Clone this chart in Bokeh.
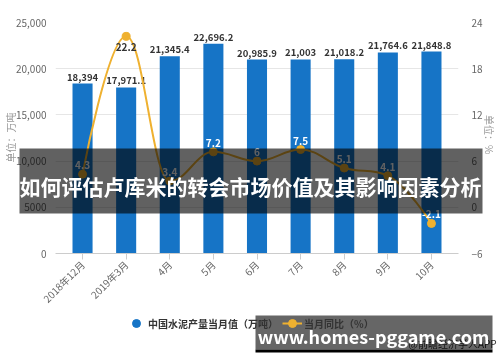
import math
from bokeh.plotting import figure
from bokeh.models import (ColumnDataSource, Range1d, LinearAxis, FixedTicker,
                          Legend, LegendItem, BoxAnnotation, Label)
from bokeh.core.properties import value
from bokeh.embed import file_html
from bokeh.resources import INLINE

# ---------------- data ----------------
categories = ["2018年12月", "2019年3月", "4月", "5月", "6月", "7月", "8月", "9月", "10月"]
output_values = [18394, 17971.1, 21345.4, 22696.2, 20985.9, 21003, 21018.2, 21764.6, 21848.8]
yoy_values = [4.3, 22.2, 3.4, 7.2, 6, 7.5, 5.1, 4.1, -2.1]
left_ticks = [0, 5000, 10000, 15000, 20000, 25000]
left_tick_labels = ["0", "5000", "10,000", "15,000", "20,000", "25,000"]
right_ticks = [-6, 0, 6, 12, 18, 24]
bar_name = "中国水泥产量当月值（万吨）"
line_name = "当月同比（%）"
left_title = "单位：万吨"
right_title = "单位：%"
headline = "如何评估卢库米的转会市场价值及其影响因素分析"
banner_text = "www.homes-pggame.com"
credit_text = "@前瞻经济学人APP"

# ---------------- style ----------------
FONT = "Noto Sans CJK SC"
BLUE = "#1674c6"
GOLD = "#efb130"
LEFT_MAX = 25000
RIGHT_MIN, RIGHT_MAX = -6, 24
FRAME_H = 231.0
W, H = 500, 362
NAN = float("nan")


def fmt(v):
    if float(v) == int(v):
        return f"{int(v):,}"
    return f"{v:,.1f}"


xs = list(range(len(categories)))

p = figure(width=W, height=H, output_backend="svg", toolbar_location=None,
           x_range=Range1d(-0.62, len(categories) - 1 + 0.62),
           y_range=Range1d(0, LEFT_MAX),
           min_border_left=55, min_border_right=42, min_border_top=22,
           min_border_bottom=109, outline_line_color=None,
           background_fill_color="white", border_fill_color="white")
p.styles = {"position": "fixed", "top": "0px", "left": "0px"}
p.extra_y_ranges = {"pct": Range1d(RIGHT_MIN, RIGHT_MAX)}

# axes
xb = p.below[0]
yl = p.left[0]
xb.ticker = FixedTicker(ticks=xs)
xb.major_label_overrides = {i: c for i, c in zip(xs, categories)}
xb.major_label_orientation = math.pi / 4
xb.major_label_text_font = FONT
xb.major_label_text_font_size = "10px"
xb.major_label_text_color = "#666666"
xb.axis_line_color = "#cccccc"
xb.major_tick_line_color = "#cccccc"
xb.major_tick_out = 6
xb.major_tick_in = 0
xb.minor_tick_line_color = None
xb.major_label_standoff = 3

yl.ticker = FixedTicker(ticks=left_ticks)
yl.major_label_overrides = {t: l for t, l in zip(left_ticks, left_tick_labels)}
yl.major_label_text_font = FONT
yl.major_label_text_font_size = "10px"
yl.major_label_text_color = "#666666"
yl.axis_line_color = None
yl.major_tick_line_color = None
yl.minor_tick_line_color = None
yl.major_label_standoff = 3

yr = LinearAxis(y_range_name="pct", ticker=FixedTicker(ticks=right_ticks))
yr.major_label_text_font = FONT
yr.major_label_text_font_size = "10px"
yr.major_label_text_color = "#666666"
yr.axis_line_color = None
yr.major_tick_line_color = None
yr.minor_tick_line_color = None
yr.major_label_standoff = 7
p.add_layout(yr, "right")

p.xgrid.visible = False
p.ygrid.ticker = yl.ticker
p.ygrid.grid_line_color = "#e6e6e6"

# bars
bar_src = ColumnDataSource(dict(x=xs, v=output_values, lbl=[fmt(v) for v in output_values]))
p.vbar(x="x", top="v", width=0.46, source=bar_src, fill_color=BLUE, line_color=None)
p.text(x="x", y="v", text="lbl", source=bar_src, text_align="center",
       text_baseline="bottom", y_offset=-3, text_font=value(FONT),
       text_font_size="9.5px", text_font_style="bold", text_color="#333333")

# smooth spline (Highcharts-like) through the yoy points
smoothing = 1.5
denom = smoothing + 1
n = len(xs)
lcx = list(map(float, xs)); lcy = list(map(float, yoy_values))
rcx = list(map(float, xs)); rcy = list(map(float, yoy_values))
for i in range(1, n - 1):
    px, py = xs[i], yoy_values[i]
    lx, ly = xs[i - 1], yoy_values[i - 1]
    nx, ny = xs[i + 1], yoy_values[i + 1]
    a_x = (smoothing * px + lx) / denom
    a_y = (smoothing * py + ly) / denom
    b_x = (smoothing * px + nx) / denom
    b_y = (smoothing * py + ny) / denom
    corr = ((b_y - a_y) * (b_x - px)) / (b_x - a_x) + py - b_y
    a_y += corr
    b_y += corr
    if a_y > ly and a_y > py:
        a_y = max(ly, py); b_y = 2 * py - a_y
    elif a_y < ly and a_y < py:
        a_y = min(ly, py); b_y = 2 * py - a_y
    if b_y > ny and b_y > py:
        b_y = max(ny, py); a_y = 2 * py - b_y
    elif b_y < ny and b_y < py:
        b_y = min(ny, py); a_y = 2 * py - b_y
    lcx[i], lcy[i], rcx[i], rcy[i] = a_x, a_y, b_x, b_y

seg = ColumnDataSource(dict(
    x0=xs[:-1], y0=yoy_values[:-1], x1=xs[1:], y1=yoy_values[1:],
    cx0=rcx[:-1], cy0=rcy[:-1], cx1=lcx[1:], cy1=lcy[1:]))
p.bezier(x0="x0", y0="y0", x1="x1", y1="y1", cx0="cx0", cy0="cy0",
         cx1="cx1", cy1="cy1", source=seg, line_color=GOLD, line_width=2,
         y_range_name="pct")
p.scatter(xs, yoy_values, marker="circle", size=8, fill_color=GOLD,
          line_color=GOLD, y_range_name="pct")

# yoy labels: above the point unless clipped at the top; contrast colouring
px_per_pct = FRAME_H / (RIGHT_MAX - RIGHT_MIN)
offs, tcol = [], []
for v, b in zip(yoy_values, output_values):
    pt_px = (v - RIGHT_MIN) * px_per_pct
    off = 11 if pt_px + 17 > FRAME_H else -9
    lab_px = pt_px - off
    over_bar = lab_px < b / LEFT_MAX * FRAME_H
    offs.append(off)
    tcol.append("#ffffff" if over_bar else "#333333")
lab_src = ColumnDataSource(dict(x=xs, y=yoy_values, lbl=[fmt(v) for v in yoy_values],
                                off=offs, tc=tcol))
p.text(x="x", y="y", text="lbl", source=lab_src, text_align="center",
       text_baseline="middle", y_offset="off", text_font=value(FONT),
       text_font_size="10px", text_font_style="bold", text_color="tc",
       y_range_name="pct")

# ---------------- overlay figure (separate root, fixed over the chart) -------------
ov = figure(width=W, height=H, output_backend="svg", toolbar_location=None,
            x_range=Range1d(0, W), y_range=Range1d(H, 0),
            x_axis_type=None, y_axis_type=None,
            min_border_left=0, min_border_right=0, min_border_top=0,
            min_border_bottom=0,
            outline_line_color=None, background_fill_color=None,
            border_fill_color=None)
ov.styles = {"position": "fixed", "top": "0px", "left": "0px"}

# axis titles
ov.add_layout(Label(x=10, y=137, text=left_title, angle=math.pi / 2,
                    text_align="center", text_baseline="middle", text_font=FONT,
                    text_font_size="10px", text_color="#999999"))
ov.add_layout(Label(x=489, y=134, text=right_title, angle=-math.pi / 2,
                    text_align="center", text_baseline="middle", text_font=FONT,
                    text_font_size="10px", text_color="#999999"))

# legend (proxy renderers hold no drawable point)
d_c = ov.scatter(x=[NAN], y=[NAN], marker="circle", size=10, fill_color=BLUE, line_color=BLUE)
d_l = ov.line(x=[NAN], y=[NAN], line_color=GOLD, line_width=2)
d_m = ov.scatter(x=[NAN], y=[NAN], marker="circle", size=6, fill_color=GOLD, line_color=GOLD)
legend = Legend(items=[LegendItem(label=bar_name, renderers=[d_c]),
                       LegendItem(label=line_name, renderers=[d_l, d_m])],
                location=(126, 29), orientation="horizontal",
                glyph_width=20, glyph_height=20, label_standoff=2, spacing=4,
                padding=0, margin=0, border_line_color=None,
                background_fill_alpha=0, label_text_font=FONT,
                label_text_font_size="10px", label_text_color="#333333",
                label_text_font_style="bold")
ov.add_layout(legend, "center")

# headline band
ov.add_layout(BoxAnnotation(left=19, right=482, top=148, bottom=213,
                            fill_color="black", fill_alpha=0.62, line_color=None,
                            level="overlay"))
ov.add_layout(Label(x=250, y=185, text=headline,
                    text_align="center", text_baseline="middle", text_font=FONT,
                    text_font_size="21px", text_font_style="bold",
                    text_color="white", level="overlay"))

# bottom banner
ov.add_layout(Label(x=408, y=343, text=credit_text,
                    text_align="left", text_baseline="middle", text_font=FONT,
                    text_font_size="10px", text_color="#333333", level="overlay"))
ov.add_layout(BoxAnnotation(left=255, right=492, top=315, bottom=349,
                            fill_color="black", fill_alpha=0.6, line_color=None,
                            level="overlay"))
ov.add_layout(BoxAnnotation(left=255, right=492, top=349, bottom=352,
                            fill_color="black", fill_alpha=1.0, line_color=None,
                            level="overlay"))
ov.add_layout(Label(x=373, y=335, text=banner_text,
                    text_align="center", text_baseline="middle", text_font=FONT,
                    text_font_size="18px", text_font_style="bold",
                    text_color="white", level="overlay"))

open("out.html", "w").write(file_html([p, ov], INLINE))
